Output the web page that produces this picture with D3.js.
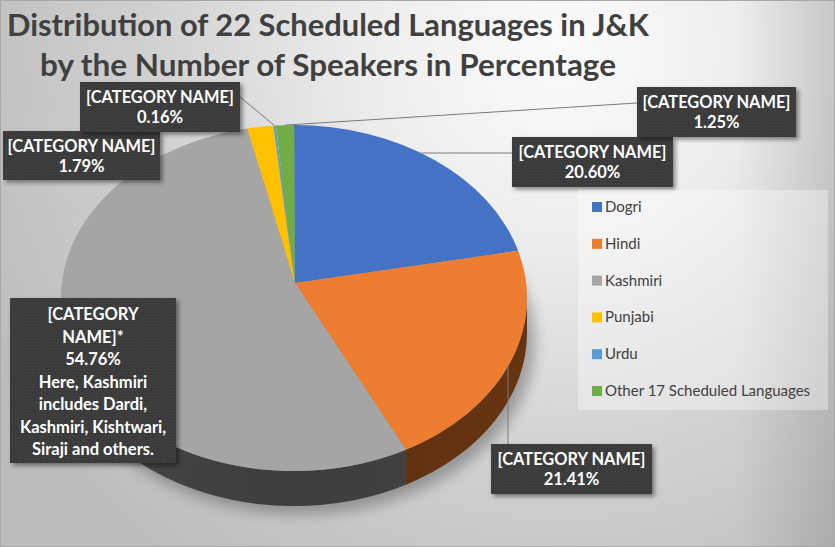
<!DOCTYPE html>
<html><head><meta charset="utf-8">
<script src="https://cdnjs.cloudflare.com/ajax/libs/d3/7.8.5/d3.min.js"></script>
<style>body{margin:0;background:#fff}svg{display:block}</style>
</head><body>
<script>
// ---- data ----
const categories = ["Dogri","Hindi","Kashmiri","Punjabi","Urdu","Other 17 Scheduled Languages"];
const values = [20.60, 21.41, 54.76, 1.79, 0.16, 1.25];
const valueLabels = ["20.60%","21.41%","54.76%","1.79%","0.16%","1.25%"];
const colors = ["#4472C4","#ED7D31","#A5A5A5","#FFC000","#5B9BD5","#70AD47"];
const sideColors = ["#2b477a","#6c3712","#464646","#8c6a00","#33577a","#3e6427"];
const titleLines = ["Distribution of 22 Scheduled Languages in J&K","by the Number of Speakers in Percentage"];
const kashmiriNote = ["Here, Kashmiri","includes Dardi,","Kashmiri, Kishtwari,","Siraji and others."];
const labelHead = "[CATEGORY NAME]";

// ---- layout ----
const W = 835, H = 547;
const cx = 294, cy = 298, rx = 233, ry = 173, depth = 35;
const apex = [295, 283];
const font = "Lato, 'Open Sans', sans-serif";

const svg = d3.select("body").append("svg").attr("width", W).attr("height", H);
const defs = svg.append("defs");

const bg = defs.append("radialGradient").attr("id","bg").attr("gradientUnits","userSpaceOnUse")
  .attr("cx",560).attr("cy",50).attr("r",640);
[[0,"#fbfbfb"],[0.3,"#ededed"],[0.65,"#d0d0d0"],[1,"#bcbcbc"]].forEach(s=>bg.append("stop").attr("offset",s[0]).attr("stop-color",s[1]));
const vig = defs.append("linearGradient").attr("id","vig").attr("x1",0).attr("x2",1).attr("y1",0).attr("y2",0);
vig.append("stop").attr("offset",0.88).attr("stop-color","#000").attr("stop-opacity",0);
vig.append("stop").attr("offset",1).attr("stop-color","#000").attr("stop-opacity",0.12);

const pat = defs.append("pattern").attr("id","tex").attr("patternUnits","userSpaceOnUse").attr("width",3).attr("height",3);
pat.append("rect").attr("width",3).attr("height",3).attr("fill","#393939");
pat.append("rect").attr("width",1).attr("height",1).attr("fill","#4b4b4b");
pat.append("rect").attr("x",1.5).attr("y",1.5).attr("width",1).attr("height",1).attr("fill","#444");

const ds = defs.append("filter").attr("id","ds").attr("x","-20%").attr("y","-20%").attr("width","140%").attr("height","140%");
ds.append("feDropShadow").attr("dx",2.5).attr("dy",2.5).attr("stdDeviation",2).attr("flood-color","#000").attr("flood-opacity",0.45);
const blur = defs.append("filter").attr("id","blur").attr("x","-30%").attr("y","-30%").attr("width","160%").attr("height","160%");
blur.append("feGaussianBlur").attr("stdDeviation",7);

const sideShade = defs.append("linearGradient").attr("id","sideShade").attr("gradientUnits","userSpaceOnUse")
  .attr("x1",cx-rx).attr("x2",cx+rx).attr("y1",0).attr("y2",0);
[[0,0.0],[0.5,0.12],[1,0.05]].forEach(s=>sideShade.append("stop").attr("offset",s[0]).attr("stop-color","#000").attr("stop-opacity",s[1]));

// background
svg.append("rect").attr("width",W).attr("height",H).attr("fill","url(#bg)");
svg.append("rect").attr("width",W).attr("height",H).attr("fill","url(#vig)");
svg.append("rect").attr("x",0.5).attr("y",0.5).attr("width",W-1).attr("height",H-1).attr("fill","none").attr("stroke","#a8a8a8").attr("stroke-width",1);

// title
svg.append("g").selectAll("text").data(titleLines).join("text")
  .attr("x",328).attr("y",(d,i)=>36+i*40)
  .attr("text-anchor","middle")
  .attr("textLength",(d,i)=>i===0?642:576).attr("lengthAdjust","spacingAndGlyphs")
  .style("font-family",font).style("font-weight",700).style("font-size","30px")
  .attr("fill","#404040").text(d=>d);

// pie
const arcs = d3.pie().sort(null).value(d=>d)(values);
const P = (a, dy=0) => [cx + rx*Math.sin(a), cy - ry*Math.cos(a) + dy];

// shadow
svg.append("ellipse").attr("cx",cx+6).attr("cy",cy+depth+8).attr("rx",rx+2).attr("ry",ry)
  .attr("fill","#000").attr("opacity",0.28).attr("filter","url(#blur)");

const gSide = svg.append("g");
arcs.forEach((d,i)=>{
  const s = Math.max(d.startAngle, Math.PI/2), e = Math.min(d.endAngle, 3*Math.PI/2);
  if (e <= s) return;
  const p0=P(s), p1=P(e), q1=P(e,depth), q0=P(s,depth);
  const path = `M${p0}A${rx},${ry} 0 0 1 ${p1}L${q1}A${rx},${ry} 0 0 0 ${q0}Z`;
  gSide.append("path").attr("d",path).attr("fill",sideColors[i]);
  gSide.append("path").attr("d",path).attr("fill","url(#sideShade)");
});

const gTop = svg.append("g");
arcs.forEach((d,i)=>{
  const p0=P(d.startAngle), p1=P(d.endAngle);
  const large = (d.endAngle-d.startAngle) > Math.PI ? 1 : 0;
  gTop.append("path")
    .attr("d",`M${apex}L${p0}A${rx},${ry} 0 ${large} 1 ${p1}Z`)
    .attr("fill",colors[i]);
});

// ---- data labels ----
const mid = d => (d.startAngle+d.endAngle)/2;
const labelLayout = [
  {box:[512,137,161,50], attach:[512,153], anchor:(d)=>Math.acos((cy-153)/ry)},
  {box:[491,444,161,50], attach:[508,444], anchor:(d)=>Math.PI-Math.asin((508-cx)/rx)},
  {box:[10,298,166,165], attach:null},
  {box:[3,131,157,49], attach:null},
  {box:[80,82,160,50], attach:[240,97], anchor:mid},
  {box:[637,87,159,50], attach:[637,103], anchor:mid}
];

const gLead = svg.append("g");
const gLab = svg.append("g");
const fs = "16.5px";
arcs.forEach((d,i)=>{
  const L = labelLayout[i];
  if (L.attach) {
    const a = P(L.anchor(d));
    gLead.append("line").attr("x1",a[0]).attr("y1",a[1]).attr("x2",L.attach[0]).attr("y2",L.attach[1])
      .attr("stroke","#7a7a7a").attr("stroke-width",1);
  }
  const [bx,by,bw,bh] = L.box;
  gLab.append("rect").attr("x",bx).attr("y",by).attr("width",bw).attr("height",bh)
    .attr("fill","url(#tex)").attr("filter","url(#ds)");
  const tx = bx + bw/2;
  if (categories[i] === "Kashmiri") {
    const lines = ["[CATEGORY","NAME]*",valueLabels[i]].concat(kashmiriNote);
    lines.forEach((t,k)=>{
      gLab.append("text").attr("x",tx).attr("y",by+22+k*22.5).attr("text-anchor","middle")
        .style("font-family",font).style("font-weight",700).style("font-size",fs)
        .attr("fill","#fff").text(t);
    });
  } else {
    gLab.append("text").attr("x",tx).attr("y",by+21).attr("text-anchor","middle")
      .attr("textLength",148).attr("lengthAdjust","spacingAndGlyphs")
      .style("font-family",font).style("font-weight",700).style("font-size",fs)
      .attr("fill","#fff").text(labelHead);
    gLab.append("text").attr("x",tx).attr("y",by+41).attr("text-anchor","middle")
      .style("font-family",font).style("font-weight",700).style("font-size",fs)
      .attr("fill","#fff").text(valueLabels[i]);
  }
});

// ---- legend ----
const gLeg = svg.append("g");
gLeg.append("rect").attr("x",578).attr("y",190).attr("width",250).attr("height",220)
  .attr("fill","#fff").attr("opacity",0.35);
const ly = d3.scalePoint().domain(categories).range([207,391]);
categories.forEach((c,i)=>{
  gLeg.append("rect").attr("x",592).attr("y",ly(c)-5).attr("width",10).attr("height",10).attr("fill",colors[i]);
  gLeg.append("text").attr("x",605).attr("y",ly(c)+5)
    .style("font-family",font).style("font-size","15px").attr("fill","#404040").text(c);
});
</script>
</body></html>
